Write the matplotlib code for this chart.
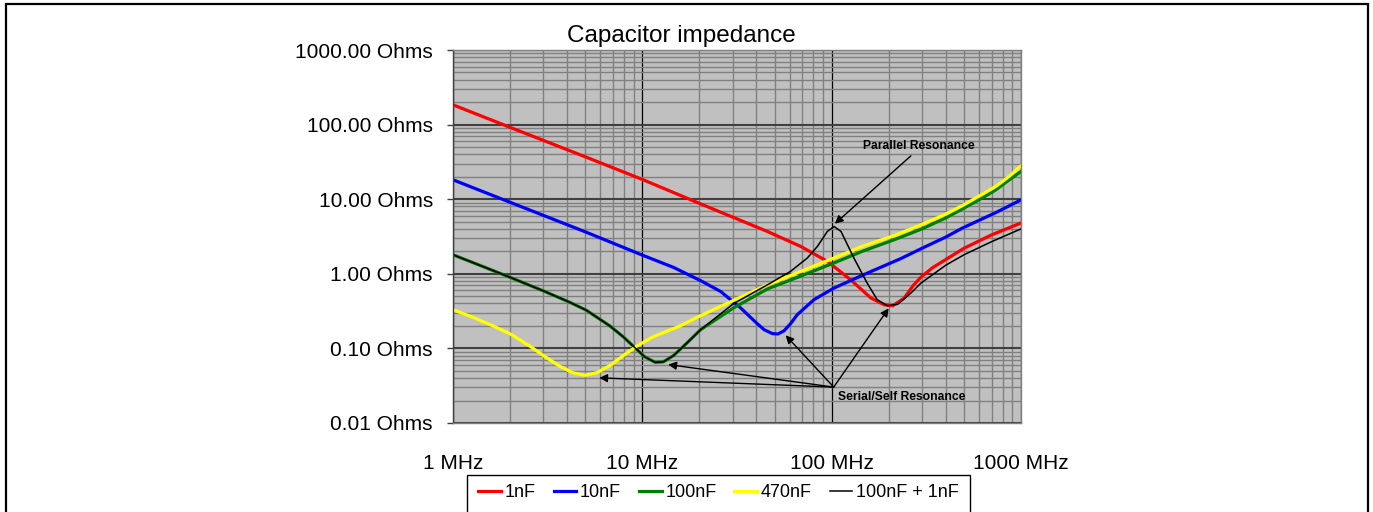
import matplotlib
matplotlib.use("Agg")
import matplotlib.pyplot as plt
from matplotlib.patches import Rectangle
from matplotlib.ticker import FixedLocator, FuncFormatter, LogLocator, NullFormatter

plt.rcParams['font.family'] = ['Liberation Sans', 'DejaVu Sans']

# frequency in MHz, impedance in Ohms
f_1n = [1, 2, 5, 10, 20, 45.7, 68.6, 94.9, 126, 161, 189, 210, 241, 270, 296, 340, 400, 500, 700, 1000]
z_1n = [184, 92, 37, 18.4, 8.8, 3.7, 2.33, 1.47, 0.83, 0.475, 0.385, 0.373, 0.47, 0.7, 0.9, 1.2, 1.55, 2.2,
        3.33, 4.8]

f_10n = [1, 2, 5, 10, 14.6, 20.3, 25.9, 33, 40.4, 44, 48.6, 52, 56, 60.7, 65.8, 80.6, 103, 154, 232, 300, 400,
         490, 735, 1000]
z_10n = [18.2, 9.1, 3.65, 1.78, 1.22, 0.81, 0.58, 0.35, 0.215, 0.178, 0.158, 0.156, 0.172, 0.215, 0.283, 0.45,
         0.645, 1.02, 1.6, 2.2, 3.1, 4.1, 6.6, 9.8]

f_100n = [1, 1.5, 2.04, 3.05, 4.14, 5.07, 6.74, 7.93, 9.14, 10.3, 11.7, 12.9, 14.6, 17.2, 20.3, 30.4, 45.7,
          70, 103, 145, 217, 300, 400, 490, 600, 735, 850, 1000]
z_100n = [1.80, 1.20, 0.88, 0.58, 0.415, 0.324, 0.20, 0.143, 0.102, 0.077, 0.065, 0.066, 0.080, 0.118, 0.178,
          0.35, 0.625, 0.95, 1.40, 2.0, 2.9, 4.0, 5.6, 7.4, 9.8, 13.3, 17.5, 23.5]

f_470n = [1, 1.28, 1.63, 2.04, 2.55, 3.05, 3.67, 4.31, 4.97, 5.73, 6.74, 7.93, 9.33, 11.4, 15.8, 20.3, 45.7,
          103, 145, 217, 300, 400, 490, 600, 735, 850, 1000]
z_470n = [0.33, 0.26, 0.20, 0.153, 0.107, 0.078, 0.0575, 0.047, 0.0436, 0.047, 0.0588, 0.080, 0.107, 0.143,
          0.20, 0.275, 0.71, 1.63, 2.33, 3.3, 4.6, 6.3, 8.2, 11, 14.8, 19.5, 28]

f_mix = [1, 1.5, 2.04, 3.05, 4.14, 5.07, 6.74, 7.93, 9.14, 10.3, 11.7, 12.9, 14.6, 17.2, 20.3, 30.4, 45.7,
         60.7, 74.4, 84.1, 94.9, 103, 112, 131, 154, 174, 197, 223, 262, 296, 400, 500, 700, 1000]
z_mix = [1.80, 1.20, 0.88, 0.58, 0.415, 0.324, 0.20, 0.143, 0.102, 0.077, 0.065, 0.066, 0.080, 0.118, 0.178,
         0.40, 0.71, 1.08, 1.63, 2.33, 3.7, 4.3, 3.7, 1.63, 0.75, 0.45, 0.373, 0.39, 0.55, 0.75, 1.3, 1.8,
         2.7, 4.0]

labels = ['1nF', '10nF', '100nF', '470nF', '100nF + 1nF']
colors = ['#FF0000', '#0000FF', '#008000', '#FFFF00', '#000000']
y_ticks = [0.01, 0.1, 1, 10, 100, 1000]
x_ticks = [1, 10, 100, 1000]

# annotation points (MHz, Ohms)
serial_from = (102.5, 0.0303)
serial_to = [(200, 0.345), (57.1, 0.150), (13.7, 0.0607), (5.92, 0.0403)]
parallel_from = (262, 38.1)
parallel_to = (104, 4.69)

W, H = 1373, 512
fig = plt.figure(figsize=(W / 100, H / 100), dpi=100)
fig.patch.set_facecolor('white')
ax = fig.add_axes([453 / W, 1 - 423 / H, (1021 - 453) / W, (423 - 50) / H])
ax.set_facecolor('#C0C0C0')
ax.set_xscale('log')
ax.set_yscale('log')
ax.set_xlim(1, 1000)
ax.set_ylim(0.01, 1000)

# grid
ax.set_axisbelow(True)
ax.xaxis.set_minor_locator(LogLocator(base=10, subs=range(2, 10)))
ax.yaxis.set_minor_locator(LogLocator(base=10, subs=range(2, 10)))
ax.xaxis.set_minor_formatter(NullFormatter())
ax.yaxis.set_minor_formatter(NullFormatter())
ax.grid(which='minor', color='#808080', lw=1.0)
ax.xaxis.grid(True, which='major', color='#000000', lw=0.9)
ax.yaxis.grid(True, which='major', color='#404040', lw=1.5)

data = [(f_1n, z_1n), (f_10n, z_10n), (f_100n, z_100n), (f_470n, z_470n), (f_mix, z_mix)]
for (f, z), c, lab in zip(data, colors, labels):
    lw = 1.1 if c == '#000000' else 2.3
    ax.plot(f, z, color=c, lw=lw, label=lab, solid_joinstyle='round')

# ticks
ax.yaxis.set_major_locator(FixedLocator(y_ticks))
ax.yaxis.set_major_formatter(FuncFormatter(lambda v, p: f"{v:.2f} Ohms"))
ax.xaxis.set_major_locator(FixedLocator(x_ticks))
ax.xaxis.set_major_formatter(FuncFormatter(lambda v, p: f"{v:g} MHz"))
ax.tick_params(axis='y', which='major', length=4.5, width=1, color='#404040', pad=10, labelsize=15)
ax.tick_params(axis='x', which='major', length=0, pad=22, labelsize=15)
ax.tick_params(which='minor', length=0)
for s in ax.spines.values():
    s.set_color('#808080')
    s.set_linewidth(1)
ax.spines['left'].set_color('#404040')

# annotations
arrow = dict(arrowstyle='-|>', color='black', lw=1.0, mutation_scale=12, shrinkA=0, shrinkB=0)
for tip in serial_to:
    ax.annotate('', xy=tip, xytext=serial_from, arrowprops=arrow)
ax.annotate('', xy=parallel_to, xytext=parallel_from, arrowprops=arrow)
ax.text(107.6, 0.0226, 'Serial/Self Resonance', fontsize=8.7, fontweight='bold', ha='left', va='center')
ax.text(146, 52.4, 'Parallel Resonance', fontsize=8.7, fontweight='bold', ha='left', va='center')

fig.text(681 / W, 1 - 41.7 / H, 'Capacitor impedance', fontsize=17.5, ha='center', va='baseline')

# legend box runs off the bottom of the picture, so draw its frame separately
leg = fig.legend(loc='upper center', bbox_to_anchor=(718.5 / W, 1 - 476 / H), ncol=5, fontsize=13,
                 frameon=False, handlelength=1.25, handletextpad=0.2, columnspacing=1.0,
                 borderpad=0.45, borderaxespad=0)
for line in leg.get_lines():
    line.set_linewidth(2.3 if line.get_color() != '#000000' else 1.1)
fig.patches.append(Rectangle((467 / W, -0.1), (970 - 467) / W, 0.1 + 1 - 475 / H, transform=fig.transFigure,
                             fill=False, edgecolor='black', lw=1.0, clip_on=False))

# outer chart border
fig.patches.append(Rectangle((6 / W, -0.1), (1368 - 6) / W, 1.1 - 4 / H, transform=fig.transFigure,
                             fill=False, edgecolor='black', lw=1.6, clip_on=False))

fig.savefig('out.png', dpi=100)
